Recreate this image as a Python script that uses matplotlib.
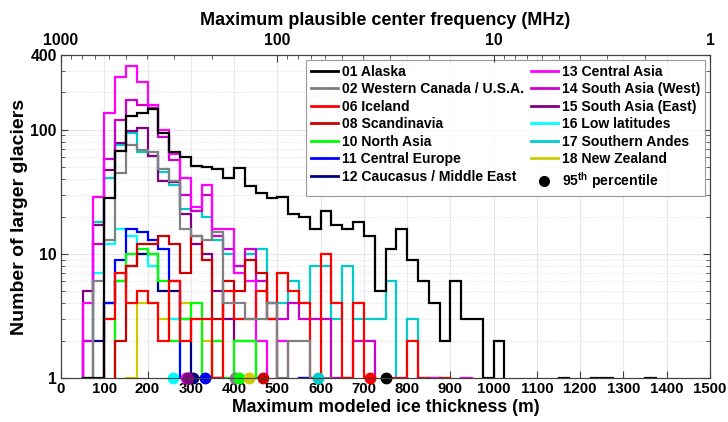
import numpy as np
import matplotlib.pyplot as plt
from matplotlib.lines import Line2D

plt.rcParams['font.family'] = ['Liberation Sans', 'DejaVu Sans']
plt.rcParams['font.weight'] = 'bold'
plt.rcParams['mathtext.fontset'] = 'custom'
plt.rcParams['mathtext.rm'] = 'Liberation Sans:bold'
plt.rcParams['mathtext.bf'] = 'Liberation Sans:bold'

# 25 m bins from 0 to 1500 m
bin_edges = np.arange(0, 1525, 25)

# counts per bin (starting at 0 m)
alaska = [0, 0, 1, 1, 28, 68, 130, 137, 146, 94, 66, 60, 51, 50, 48, 41, 49, 35, 31, 28,
          29, 21, 20, 16, 22, 17, 16, 18, 14, 5, 11, 16, 9, 6, 4, 2, 6, 3, 3, 1,
          2, 0, 0, 0, 0, 0, 1, 0, 0, 1, 1, 0, 0, 0, 1]
w_canada = [0, 0, 1, 6, 13, 45, 75, 69, 66, 48, 39, 16, 14, 13, 15, 4, 4, 3, 3, 4, 1, 2, 2, 0, 1]
iceland = [0, 0, 0, 0, 3, 7, 4, 5, 4, 2, 6, 2, 3, 3, 1, 5, 3, 3, 5, 3,
           7, 5, 4, 1, 10, 4, 1, 4, 1, 0, 1, 1, 2, 1, 0, 1]
scandinavia = [0, 0, 0, 0, 0, 2, 8, 12, 12, 14, 12, 7, 14, 9, 3, 6, 5, 9, 7, 3]
north_asia = [0, 0, 0, 0, 0, 6, 10, 11, 10, 6, 2, 3, 4, 1, 2, 1, 2, 2]
central_europe = [0, 0, 0, 0, 4, 9, 16, 15, 13, 11, 6, 1, 0, 1, 1, 0, 0, 0, 0, 0, 0, 0, 1]
caucasus = [0, 0, 0, 2, 4, 6, 8, 10, 10, 5, 5, 3, 1]
central_asia = [0, 0, 4, 29, 137, 267, 326, 243, 157, 99, 64, 41, 24, 36, 16, 16, 7, 6, 2, 0,
                2, 0, 1, 0, 0, 0, 0, 0, 0, 0, 0, 0, 0, 0, 1, 0, 0, 1]
south_asia_w = [0, 0, 2, 12, 58, 119, 173, 157, 150, 87, 57, 30, 22, 30, 14, 11, 8, 11, 6, 4,
                3, 4, 3, 3, 3, 1, 1, 2, 2, 0, 0, 0, 0, 0, 1]
south_asia_e = [0, 0, 5, 17, 47, 78, 97, 104, 61, 39, 38, 21, 12, 10, 5, 3, 2, 2, 1]
low_latitudes = [0, 0, 2, 7, 12, 16, 14, 10, 8, 5, 3, 1]
southern_andes = [0, 0, 2, 18, 41, 75, 94, 66, 62, 46, 36, 23, 22, 20, 13, 10, 8, 10, 11, 4,
                  4, 6, 4, 8, 8, 3, 8, 3, 3, 3, 6, 0, 3, 1]
new_zealand = [0, 0, 0, 0, 0, 0, 1, 4, 4, 3, 3, 4, 3, 2, 1, 1, 1, 1]

labels = ["01 Alaska", "02 Western Canada / U.S.A.", "06 Iceland", "08 Scandinavia",
          "10 North Asia", "11 Central Europe", "12 Caucasus / Middle East",
          "13 Central Asia", "14 South Asia (West)", "15 South Asia (East)",
          "16 Low latitudes", "17 Southern Andes", "18 New Zealand"]
series = [alaska, w_canada, iceland, scandinavia, north_asia, central_europe, caucasus,
          central_asia, south_asia_w, south_asia_e, low_latitudes, southern_andes, new_zealand]
colors = ["k", (0.5, 0.5, 0.5), (1, 0, 0), (0.8, 0, 0), (0, 1, 0), (0, 0, 1), (0, 0, 0.5),
          (1, 0, 1), (0.8, 0, 0.8), (0.5, 0, 0.5), (0, 1, 1), (0, 0.8, 0.8), (0.8, 0.8, 0)]

# 95th percentile of each region (m)
p95 = [752, 401, 714, 466, 411, 333, 306, 290, 292, 293, 259, 595, 435]

fig = plt.figure(figsize=(7.28, 4.22), dpi=100)
ax = fig.add_axes([0.0838, 0.104, 0.8915, 0.7657])

nbins = len(bin_edges) - 1
# drawn last-to-first so Alaska ends up on top
for vals, c in list(zip(series, colors))[::-1]:
    v = np.zeros(nbins)
    v[:len(vals)] = vals
    ax.stairs(v, bin_edges, color=c, lw=1.6, baseline=0)

for p, c in zip(p95, colors):
    ax.plot(p, 1, "o", color=c, ms=7.5, clip_on=False, zorder=6)

ax.set_yscale("log")
ax.set_ylim(1, 400)
ax.set_xlim(0, 1500)
ax.set_yticks([1, 10, 100, 400])
ax.set_yticklabels(["1", "10", "100", "400"])
ax.set_xticks(np.arange(0, 1501, 100))
ax.set_axisbelow(True)
ax.grid(which="major", color="#e8e8e8", lw=0.8)
ax.yaxis.grid(which="minor", color="#dcdcdc", lw=0.7, linestyle=":")
ax.tick_params(which="both", direction="in", right=True, top=False, labelsize=11.3,
               color="#404040")
ax.tick_params(axis="x", labelsize=10.8)
ax.tick_params(which="major", length=5, pad=3)
ax.tick_params(which="minor", length=3)
for s in ax.spines.values():
    s.set_color("#404040")
    s.set_linewidth(0.8)

ax.set_xlabel("Maximum modeled ice thickness (m)", fontsize=12.7, fontweight="bold", labelpad=2)
ax.set_ylabel("Number of larger glaciers", fontsize=14, fontweight="bold", labelpad=2)

ax2 = ax.twiny()
ax2.set_xscale("log")
ax2.set_xlim(1000, 1)
ax2.set_xticks([1000, 100, 10, 1])
ax2.set_xticklabels(["1000", "100", "10", "1"])
ax2.tick_params(which="both", direction="in", labelsize=11.3, color="#404040")
ax2.tick_params(which="major", length=5, pad=5)
ax2.tick_params(which="minor", length=3)
ax2.set_xlabel("Maximum plausible center frequency (MHz)", fontsize=13,
               fontweight="bold", labelpad=6)
for s in ax2.spines.values():
    s.set_color("#404040")
    s.set_linewidth(0.8)

handles = [Line2D([], [], color=c, lw=2) for c in colors]
handles.append(Line2D([], [], ls="none", marker="o", color="k", ms=7))
leg_labels = labels + [r"95$^{\rm th}$ percentile"]
leg = ax.legend(handles, leg_labels, ncol=2, loc="upper right", fontsize=10.1,
                frameon=True, fancybox=False, edgecolor="#808080", handlelength=1.9,
                handletextpad=0.3, columnspacing=0.5, labelspacing=0.25,
                borderaxespad=0.35, borderpad=0.35)
leg.get_frame().set_linewidth(0.8)

fig.savefig("out.png", dpi=100)
